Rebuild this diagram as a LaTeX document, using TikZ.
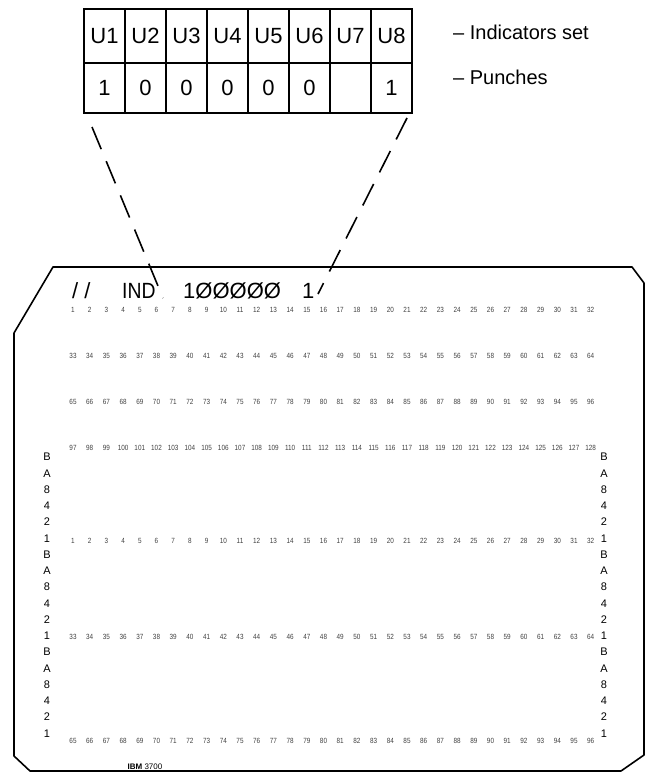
\documentclass[tikz,border=0pt]{standalone}
\usepackage{fontspec}
\usepackage{graphicx}
\setmainfont{Liberation Sans}
\begin{document}
\begin{tikzpicture}[x=1pt,y=-1pt,
 cellbox/.style={draw,line width=1.3pt,minimum width=41pt,inner sep=0pt,font=\fontsize{22}{22}\selectfont},
 hrow/.style={cellbox,minimum height=54pt},
 prow/.style={cellbox,minimum height=50pt},
 zoomline/.style={line width=1.6pt,dash pattern=on 24pt off 13pt},
 cardedge/.style={line width=1.6pt,line join=round},
 colnum/.style={font=\fontsize{7.5}{7.5}\selectfont,text=black!75,inner sep=0pt},
 zoneletter/.style={font=\fontsize{11}{11}\selectfont,inner sep=0pt},
 legend/.style={font=\fontsize{20}{20}\selectfont,anchor=west,inner sep=0pt},
 cardtext/.style={font=\fontsize{22}{22}\selectfont,anchor=base west,inner sep=0pt}]
\useasboundingbox (0,0) rectangle (645,773);
% indicator table
\foreach \lab [count=\i] in {U1,U2,U3,U4,U5,U6,U7,U8}
  \node[hrow] (u\i) at ({104.5+41*(\i-1)},36) {\lab};
\foreach \val [count=\i] in {1,0,0,0,0,0,{},1}
  \node[prow] (p\i) at ({104.5+41*(\i-1)},88) {\val};
\node[legend] (indlab) at (453,32) {– Indicators set};
\node[legend] (punlab) at (453,77) {– Punches};
% zoom lines
\coordinate (lt) at (92,127);
\coordinate (lb) at (163,298);
\coordinate (rt) at (407,118);
\coordinate (rb) at (318,294);
\draw[zoomline] (lt) -- (lb);
\draw[zoomline] (rt) -- (rb);
% card
\draw[cardedge] (53,267) -- (632,267) -- (644,283) -- (644,755) -- (621,771) -- (30,771) -- (14,756) -- (14,333) -- cycle;
\node[cardtext] (slashes) at (72,298) {/\hspace{6pt}/};
\node[cardtext] (indtxt) at (122,298) {\scalebox{0.88}[1]{IND}};
\node[cardtext] (zeros) at (183,298) {1ØØØØØ};
\node[cardtext] (lastone) at (302,298) {1};
% column numbers
\foreach \r/\y/\s in {1/310/0,2/356/32,3/402/64,4/448/96,5/541/0,6/637/32,7/741/64} {
  \foreach \j in {1,...,32} {
    \pgfmathtruncatemacro{\n}{\s+\j}
    \node[colnum] (n\r-\j) at ({73+16.7*(\j-1)},\y) {\scalebox{0.85}[1]{\n}};
  }
}
% zone letters
\foreach \l [count=\k from 0] in {B,A,8,4,2,1,B,A,8,4,2,1,B,A,8,4,2,1} {
  \node[zoneletter] (zl\k) at (47,{457+16.25*\k}) {\l};
  \node[zoneletter] (zr\k) at (604,{457+16.25*\k}) {\l};
}
\node[font=\fontsize{8}{8}\selectfont,inner sep=0pt] (ibm) at (145,767) {\textbf{IBM} 3700};
\end{tikzpicture}
\end{document}
